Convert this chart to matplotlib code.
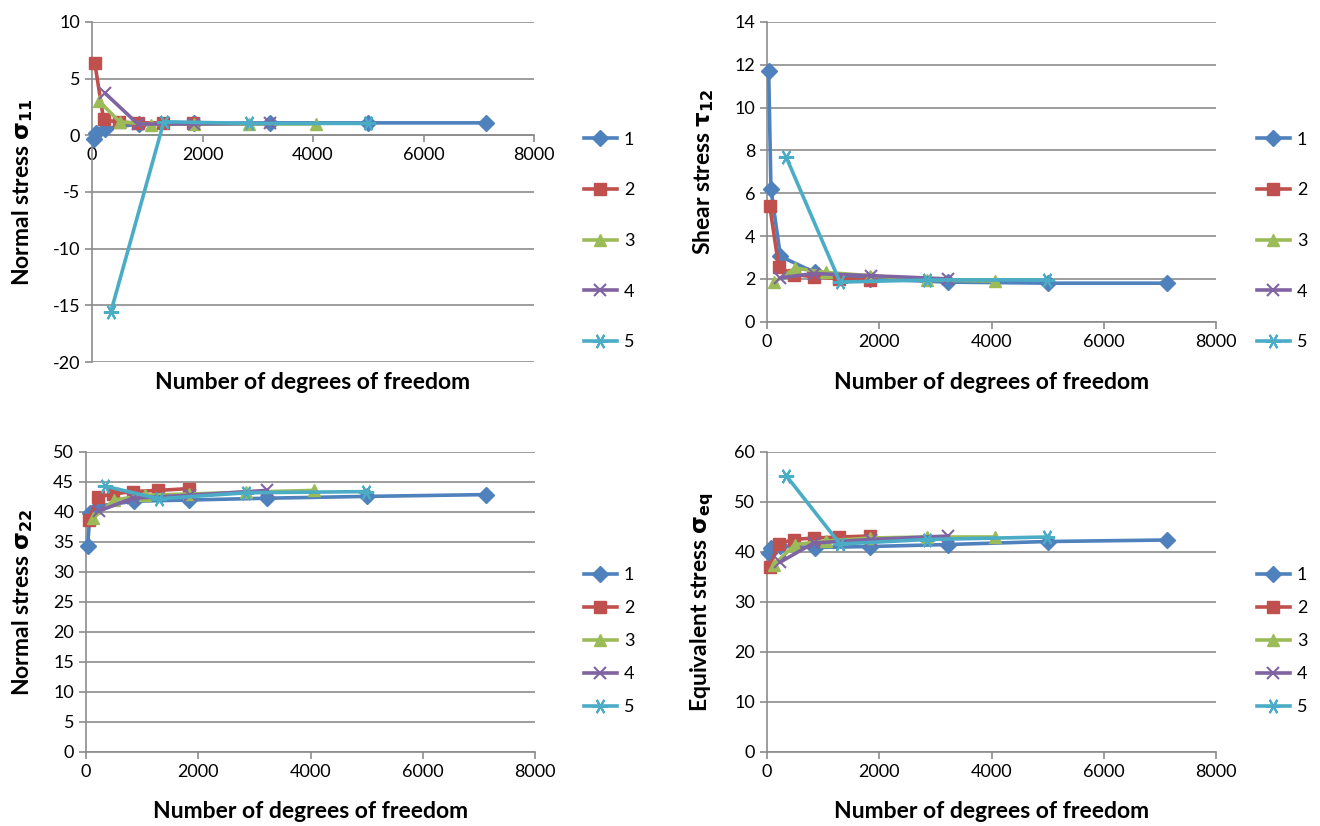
import matplotlib
matplotlib.use("Agg")
import matplotlib.pyplot as plt

plt.rcParams['font.family'] = ['Lato', 'DejaVu Sans']
plt.rcParams['mathtext.fontset'] = 'dejavusans'
plt.rcParams['axes.unicode_minus'] = False

# degrees of freedom for each mesh series
dof_1 = [30, 70, 240, 850, 1840, 3230, 5000, 7130]
dof_2 = [50, 210, 480, 830, 1290, 1830]
dof_3 = [130, 500, 1060, 1840, 2850, 4060]
dof_4 = [240, 830, 1850, 3230]
dof_5 = [340, 1300, 2850, 4990]

# normal stress sigma_11
s11_1 = [-0.3, 0.2, 0.6, 1.0, 1.05, 1.1, 1.1, 1.1]
s11_2 = [6.4, 1.4, 1.15, 1.1, 1.1, 1.1]
s11_3 = [3.0, 1.2, 0.95, 1.0, 1.0, 1.0]
s11_4 = [3.7, 1.0, 1.0, 1.05]
s11_5 = [-15.6, 1.2, 1.05, 1.05]

# shear stress tau_12
t12_1 = [11.7, 6.2, 3.05, 2.3, 2.0, 1.85, 1.8, 1.8]
t12_2 = [5.4, 2.55, 2.2, 2.1, 2.0, 1.95]
t12_3 = [1.85, 2.5, 2.3, 2.15, 1.95, 1.9]
t12_4 = [2.05, 2.25, 2.15, 2.0]
t12_5 = [7.7, 1.85, 1.95, 1.95]

# normal stress sigma_22
s22_1 = [34.3, 39.8, 41.0, 41.8, 42.0, 42.3, 42.6, 42.9]
s22_2 = [38.6, 42.5, 43.0, 43.4, 43.6, 43.9]
s22_3 = [39.0, 42.0, 42.8, 43.0, 43.3, 43.6]
s22_4 = [40.2, 42.3, 42.8, 43.6]
s22_5 = [44.3, 42.2, 43.2, 43.4]

# equivalent stress sigma_eq
seq_1 = [39.8, 40.8, 41.2, 40.9, 41.1, 41.5, 42.1, 42.4]
seq_2 = [37.1, 41.7, 42.5, 42.8, 43.0, 43.2]
seq_3 = [37.5, 41.5, 42.2, 42.8, 43.0, 43.0]
seq_4 = [38.0, 41.8, 42.5, 43.2]
seq_5 = [55.3, 41.6, 42.5, 43.0]

labels = ['1', '2', '3', '4', '5']
colors = ['#4F81BD', '#C0504D', '#9BBB59', '#8064A2', '#4BACC6']
markers = ['D', 's', '^', 'x', (6, 2, 90)]
msizes = [8, 9, 9, 9, 11]
dofs = [dof_1, dof_2, dof_3, dof_4, dof_5]

W, H = 1320, 826
fig = plt.figure(figsize=(W / 100, H / 100), dpi=100)


def add_ax(left, right, top, bottom):
    return fig.add_axes([left / W, 1 - bottom / H, (right - left) / W, (bottom - top) / H])


panels = [
    dict(box=(92, 534, 22, 362), data=[s11_1, s11_2, s11_3, s11_4, s11_5],
         ylim=(-20, 10), step=5, ylabel=r'Normal stress $\mathbf{\sigma_{11}}$',
         xlab_y=-0.03, ylab_x=-0.128, leg=(575, 241), sp=2.0),
    dict(box=(767, 1216, 22, 321.7), data=[t12_1, t12_2, t12_3, t12_4, t12_5],
         ylim=(0, 14), step=2, ylabel=r'Shear stress $\mathbf{\tau_{12}}$',
         xlab_y=-0.168, ylab_x=-0.113, leg=(1248, 241), sp=2.0),
    dict(box=(86, 535, 452, 752), data=[s22_1, s22_2, s22_3, s22_4, s22_5],
         ylim=(0, 50), step=5, ylabel=r'Normal stress $\mathbf{\sigma_{22}}$',
         xlab_y=-0.163, ylab_x=-0.113, leg=(575, 641), sp=0.98),
    dict(box=(767, 1216, 452, 752), data=[seq_1, seq_2, seq_3, seq_4, seq_5],
         ylim=(0, 60), step=10, ylabel=r'Equivalent stress $\mathbf{\sigma_{eq}}$',
         xlab_y=-0.163, ylab_x=-0.113, leg=(1248, 641), sp=0.98),
]

grid_c = '#8C8C8C'
for p in panels:
    ax = add_ax(*p['box'])
    handles = []
    for x, y, c, m, ms, lab in zip(dofs, p['data'], colors, markers, msizes, labels):
        h, = ax.plot(x, y, color=c, lw=2.6, marker=m, markersize=ms,
                     markeredgecolor=c, markeredgewidth=1.5 if m in ('x',) or isinstance(m, tuple) else 1,
                     label=lab, clip_on=False, zorder=3)
        handles.append(h)
    lo, hi = p['ylim']
    ax.set_xlim(0, 8000)
    ax.set_ylim(lo, hi)
    ax.set_xticks(range(0, 8001, 2000))
    ax.set_yticks(range(lo, hi + 1, p['step']))
    ax.yaxis.grid(True, color=grid_c, lw=1.2)
    ax.set_axisbelow(True)
    for s in ['top', 'right']:
        ax.spines[s].set_visible(False)
    ax.spines['left'].set_color(grid_c)
    ax.spines['bottom'].set_color(grid_c)
    ax.spines['left'].set_linewidth(1.2)
    ax.spines['bottom'].set_linewidth(1.2)
    if lo < 0:
        ax.spines['bottom'].set_position(('data', 0))
    ax.tick_params(colors=grid_c, labelcolor='black', labelsize=13, length=5, width=1.2)
    ax.set_xlabel('Number of degrees of freedom', fontsize=16.5, fontweight='bold')
    ax.xaxis.set_label_coords(0.5, p['xlab_y'])
    ax.set_ylabel(p['ylabel'], fontsize=16.5, fontweight='bold')
    ax.yaxis.set_label_coords(p['ylab_x'], 0.5)
    lx, ly = p['leg']
    ax.legend(handles=handles, loc='center left', bbox_to_anchor=(lx / W, 1 - ly / H),
              bbox_transform=fig.transFigure, frameon=False, fontsize=13,
              labelspacing=p['sp'] * 12.5 / 13, handlelength=1.8, handletextpad=0.4, borderpad=0)

fig.savefig('out.png', dpi=100)
